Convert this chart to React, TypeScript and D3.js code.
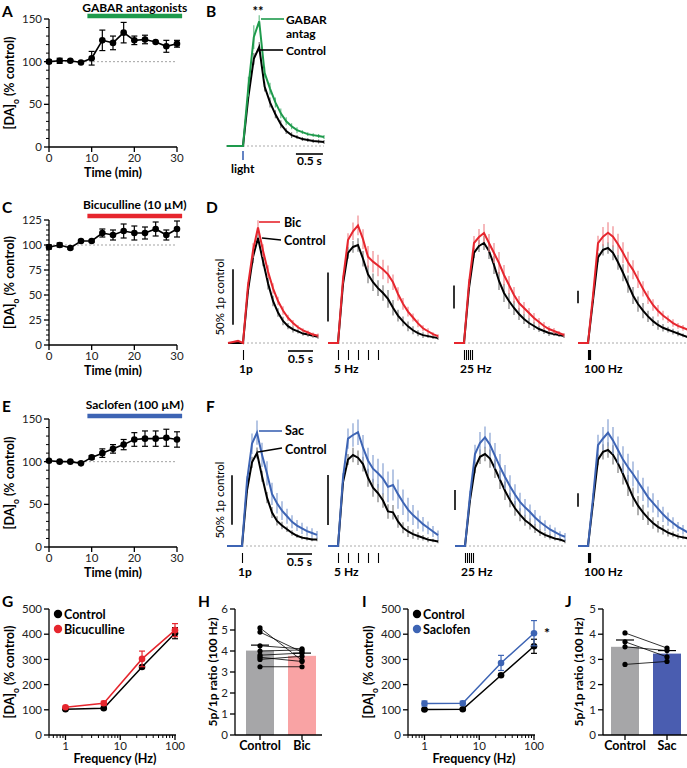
import React from "react";
import * as d3 from "d3";

const FONT = "Lato, 'Open Sans', 'DejaVu Sans', sans-serif";
const GREEN = "#1e9a4c";
const RED = "#e6262e";
const BLUE = "#3d64b4";
const RED_LIGHT = "#f08a8f";
const BLUE_LIGHT = "#86a1d2";
const GREEN_LIGHT = "#6cc08c";
const GRAY_ERR = "#7d7d7d";
const BAR_GRAY = "#a6a6a8";
const BAR_PINK = "#f9a3a4";
const BAR_BLUE = "#4a5db0";

// ---------- A, C, E : time courses ----------
const TIME_MIN = [0, 2.5, 5, 7.5, 10, 12.5, 15, 17.5, 20, 22.5, 25, 27.5, 30];
const TIME_TICKS = [0, 10, 20, 30];
const GABAR_MEAN = [100, 101, 101, 99, 104, 125, 122, 134, 125, 126, 123, 118, 121];
const GABAR_SEM = [2, 3, 1, 1, 8, 12, 8, 12, 5, 5, 1, 7, 4];
const BIC_TC_MEAN = [98, 100, 97, 104, 104, 112, 110, 114, 112, 112, 116, 110, 116];
const BIC_TC_SEM = [2, 2, 1, 1, 1, 4, 5, 7, 7, 6, 7, 5, 8];
const SAC_TC_MEAN = [101, 100, 100, 98, 105, 110, 115, 120, 126, 127, 127, 128, 126];
const SAC_TC_SEM = [1, 1, 1, 1, 2, 5, 5, 6, 8, 9, 9, 10, 9];
const A_YTICKS = [0, 50, 100, 150];
const C_YTICKS = [0, 25, 50, 75, 100, 125];
const E_YTICKS = [0, 50, 100, 150];

// ---------- B, D, F : voltammetry traces (% of control peak) ----------
const T_1P = [-0.3, -0.2, -0.1, 0, 0.1, 0.2, 0.3, 0.4, 0.5, 0.6, 0.7, 0.8, 0.9, 1.0, 1.1, 1.2, 1.3, 1.4, 1.5];
const T_TRAIN = [-0.2, -0.1, 0, 0.1, 0.2, 0.3, 0.4, 0.5, 0.6, 0.7, 0.8, 0.9, 1.0, 1.1, 1.2, 1.3, 1.4, 1.5, 1.6, 1.7, 1.8, 1.9, 2.0];

const B_CTRL = [0, 0, 0, 0, 50, 88, 100, 60, 44, 32, 22, 15, 11, 9, 7, 6, 5, 4.5, 4];
const B_GABAR = [0, 0, 0, 0, 60, 110, 126, 74, 58, 44, 33, 25, 20, 16, 14, 12, 11, 10, 9];
const B_CTRL_ERR = [0, 0, 0, 0, 4, 6, 5, 5, 5, 4, 4, 3, 3, 2, 2, 2, 2, 2, 2];
const B_GABAR_ERR = [0, 0, 0, 0, 10, 12, 6, 6, 6, 5, 5, 4, 3, 3, 2, 2, 2, 2, 2];

const STIM_LABELS = ["1p", "5 Hz", "25 Hz", "100 Hz"];
const STIM_TIMES = [
  [0],
  [0, 0.2, 0.4, 0.6, 0.8],
  [0, 0.04, 0.08, 0.12, 0.16],
  [0, 0.01, 0.02, 0.03, 0.04],
];

const D_CTRL = [
  [0, 0, 0, 0, 50, 82, 100, 78, 57, 40, 29, 21, 16, 13, 11, 9, 8, 7, 6],
  [0, 0, 0, 60, 92, 98, 100, 86, 70, 62, 56, 51, 45, 36, 28, 22, 17, 13, 10, 8, 7, 6, 5],
  [0, 0, 0, 55, 90, 97, 100, 92, 78, 62, 50, 42, 35, 29, 24, 20, 17, 14, 12, 10, 9, 8, 7],
  [0, 0, 0, 45, 90, 98, 100, 95, 85, 74, 62, 50, 41, 34, 28, 23, 19, 16, 14, 12, 10, 8, 6],
];
const D_BIC = [
  [0, 1, 2, 0, 55, 88, 110, 88, 68, 52, 40, 31, 24, 19, 15, 12, 10, 8, 7],
  [0, 0, 0, 65, 105, 114, 120, 106, 88, 83, 79, 75, 70, 62, 50, 40, 32, 26, 20, 15, 12, 9, 7],
  [0, 0, 0, 60, 100, 106, 110, 100, 90, 80, 68, 58, 48, 40, 35, 30, 25, 21, 17, 14, 12, 10, 8],
  [0, 0, 0, 50, 105, 112, 116, 112, 104, 95, 85, 77, 67, 57, 48, 40, 34, 29, 25, 21, 18, 16, 14],
];
const D_CTRL_ERR = [
  [0, 0, 0, 0, 3, 6, 5, 5, 6, 5, 4, 4, 3, 3, 2, 2, 2, 2, 2],
  [0, 0, 0, 3, 6, 6, 7, 8, 9, 9, 8, 8, 9, 8, 6, 5, 5, 4, 3, 3, 2, 2, 2],
  [0, 0, 0, 3, 5, 6, 7, 8, 9, 9, 9, 8, 7, 6, 5, 5, 4, 3, 3, 3, 2, 2, 2],
  [0, 0, 0, 3, 5, 6, 6, 8, 8, 9, 9, 9, 8, 8, 6, 5, 5, 4, 3, 3, 3, 2, 2],
];
const D_BIC_ERR = [
  [0, 0, 0, 0, 3, 7, 7, 6, 6, 5, 4, 4, 3, 3, 2, 2, 2, 2, 2],
  [0, 0, 0, 4, 7, 9, 10, 10, 11, 11, 11, 10, 9, 8, 7, 6, 5, 4, 4, 3, 3, 2, 2],
  [0, 0, 0, 4, 7, 8, 9, 9, 10, 11, 10, 9, 8, 7, 6, 5, 5, 4, 4, 3, 3, 2, 2],
  [0, 0, 0, 4, 8, 10, 11, 11, 11, 11, 11, 10, 9, 8, 7, 6, 6, 5, 4, 4, 3, 3, 2],
];
const D_BAR_PCT = [53, 50, 23, 13];

const F_CTRL = [
  [0, 0, 0, 0, 60, 90, 100, 75, 52, 36, 27, 22, 18, 14, 11, 9, 8, 7, 7],
  [0, 0, 0, 70, 95, 100, 97, 90, 75, 64, 58, 50, 38, 37, 27, 20, 16, 13, 11, 9, 7, 6, 5],
  [0, 0, 0, 50, 85, 97, 100, 95, 84, 72, 60, 50, 41, 34, 28, 24, 19, 15, 12, 10, 8, 7, 5],
  [0, 0, 0, 45, 90, 98, 100, 95, 86, 75, 63, 51, 42, 35, 29, 24, 20, 17, 14, 12, 10, 9, 8],
];
const F_SAC = [
  [0, 0, 0, 0, 70, 110, 122, 98, 78, 56, 46, 38, 32, 26, 22, 19, 16, 14, 12],
  [0, 0, 0, 75, 118, 122, 125, 108, 94, 85, 80, 74, 65, 67, 57, 48, 40, 34, 29, 24, 20, 16, 12],
  [0, 0, 0, 55, 100, 112, 118, 110, 98, 86, 75, 65, 56, 48, 42, 37, 31, 26, 22, 18, 15, 12, 10],
  [0, 0, 0, 50, 105, 112, 118, 110, 100, 90, 82, 75, 67, 59, 51, 45, 39, 33, 28, 24, 20, 17, 14],
];
const F_CTRL_ERR = [
  [0, 0, 0, 0, 3, 6, 6, 6, 6, 6, 5, 4, 3, 3, 2, 2, 2, 2, 2],
  [0, 0, 0, 3, 6, 8, 8, 8, 10, 10, 10, 8, 8, 8, 7, 6, 6, 5, 4, 3, 3, 2, 2],
  [0, 0, 0, 3, 6, 8, 8, 10, 10, 10, 10, 8, 8, 7, 6, 6, 5, 4, 3, 3, 2, 2, 2],
  [0, 0, 0, 3, 6, 8, 8, 10, 10, 11, 11, 10, 10, 8, 7, 6, 6, 5, 4, 3, 3, 2, 2],
];
const F_SAC_ERR = [
  [0, 0, 0, 0, 5, 11, 13, 13, 13, 12, 11, 10, 8, 7, 6, 6, 5, 5, 4],
  [0, 0, 0, 5, 11, 13, 14, 14, 14, 15, 16, 17, 17, 17, 16, 14, 13, 11, 10, 8, 7, 6, 5],
  [0, 0, 0, 5, 10, 12, 12, 13, 14, 14, 13, 12, 11, 10, 9, 8, 8, 7, 6, 5, 5, 4, 4],
  [0, 0, 0, 5, 11, 12, 14, 14, 14, 14, 14, 13, 12, 12, 11, 10, 9, 8, 7, 6, 5, 5, 4],
];
const F_BAR_PCT = [53, 55, 22, 14];

// ---------- G, I : frequency response ----------
const FREQ = [1, 5, 25, 100];
const FREQ_TICKS = [1, 10, 100];
const DA_TICKS = [0, 100, 200, 300, 400, 500];
const G_CTRL = [102, 106, 270, 404];
const G_CTRL_SEM = [3, 3, 5, 22];
const G_BIC = [110, 126, 302, 416];
const G_BIC_SEM = [4, 8, 31, 26];
const I_CTRL = [101, 102, 237, 352];
const I_CTRL_SEM = [3, 3, 4, 28];
const I_SAC = [125, 126, 286, 404];
const I_SAC_SEM = [10, 8, 30, 50];

// ---------- H, J : paired ratios ----------
const H_CATS = ["Control", "Bic"];
const H_MEAN = [4.02, 3.77];
const H_SEM = [0.26, 0.13];
const H_CTRL_VALS = [5.1, 4.9, 4.25, 4.0, 3.8, 3.7, 3.6, 3.25];
const H_BIC_VALS = [3.55, 3.95, 4.1, 4.05, 3.9, 3.5, 3.75, 3.25];
const H_TICKS = [0, 1, 2, 3, 4, 5, 6];
const J_CATS = ["Control", "Sac"];
const J_MEAN = [3.5, 3.23];
const J_SEM = [0.27, 0.12];
const J_CTRL_VALS = [4.05, 3.7, 3.5, 2.8];
const J_SAC_VALS = [3.45, 3.1, 3.35, 2.92];
const J_TICKS = [0, 1, 2, 3, 4, 5];

// ---------- helpers ----------
const TICK_FS = 11.5;
const TITLE_FS = 12.5;

function Letter({ x, y, t }: any) {
  return (
    <text x={x} y={y} fontSize={15.5} fontWeight={700}>
      {t}
    </text>
  );
}

function DALabel({ x, y }: any) {
  return (
    <text transform={`translate(${x},${y}) rotate(-90)`} textAnchor="middle" fontSize={TITLE_FS} fontWeight={700}>
      [DA]<tspan baselineShift="sub" fontSize={8.5}>o</tspan>
      <tspan> (% control)</tspan>
    </text>
  );
}

function YAxis({ scale, x, ticks, minor }: any) {
  const [r0, r1] = scale.range();
  return (
    <g>
      <line x1={x} x2={x} y1={r0} y2={r1} stroke="#000" strokeWidth={1.3} />
      {(minor || []).map((v: number) => (
        <line key={"m" + v} x1={x - 3} x2={x} y1={scale(v)} y2={scale(v)} stroke="#000" strokeWidth={1} />
      ))}
      {ticks.map((v: number) => (
        <g key={v}>
          <line x1={x - 5} x2={x} y1={scale(v)} y2={scale(v)} stroke="#000" strokeWidth={1.3} />
          <text x={x - 7} y={scale(v)} dy="0.36em" textAnchor="end" fontSize={TICK_FS} fill="#222">
            {v}
          </text>
        </g>
      ))}
    </g>
  );
}

function TimeCourse({ letter, yTop, yBottom, yMax, yTicks, minorStep, mean, sem, barColor, barLabel, barY, barLabelY }: any) {
  const x = d3.scaleLinear().domain([0, 30]).range([49, 177]);
  const y = d3.scaleLinear().domain([0, yMax]).range([yBottom, yTop]);
  const line = d3.line<number>().x((_, i) => x(TIME_MIN[i])).y((d) => y(d));
  const minor = d3.range(0, yMax + 0.01, minorStep).filter((v) => !yTicks.includes(v));
  return (
    <g>
      <Letter x={2} y={letter.y} t={letter.t} />
      <line x1={x(9.0)} x2={x(31.2)} y1={barY} y2={barY} stroke={barColor} strokeWidth={4.5} />
      <text x={(x(9) + x(31.2)) / 2} y={barLabelY} textAnchor="middle" fontSize={12} fontWeight={700}>
        {barLabel}
      </text>
      <line x1={x(0)} x2={x(30)} y1={y(100)} y2={y(100)} stroke="#999" strokeDasharray="2,2" strokeWidth={0.9} />
      <YAxis scale={y} x={49} ticks={yTicks} minor={minor} />
      <line x1={49} x2={177} y1={yBottom} y2={yBottom} stroke="#000" strokeWidth={1.3} />
      {TIME_TICKS.map((v) => (
        <g key={v}>
          <line x1={x(v)} x2={x(v)} y1={yBottom} y2={yBottom + 5} stroke="#000" strokeWidth={1.3} />
          <text x={x(v)} y={yBottom + 15} textAnchor="middle" fontSize={TICK_FS} fill="#222">
            {v}
          </text>
        </g>
      ))}
      <text x={113} y={yBottom + 30} textAnchor="middle" fontSize={TITLE_FS} fontWeight={700}>
        Time (min)
      </text>
      <DALabel x={14} y={(yTop + yBottom) / 2} />
      {mean.map((m: number, i: number) => (
        <g key={i}>
          <line x1={x(TIME_MIN[i])} x2={x(TIME_MIN[i])} y1={y(m - sem[i])} y2={y(m + sem[i])} stroke="#000" strokeWidth={1.2} />
          <line x1={x(TIME_MIN[i]) - 3} x2={x(TIME_MIN[i]) + 3} y1={y(m - sem[i])} y2={y(m - sem[i])} stroke="#000" strokeWidth={1.2} />
          <line x1={x(TIME_MIN[i]) - 3} x2={x(TIME_MIN[i]) + 3} y1={y(m + sem[i])} y2={y(m + sem[i])} stroke="#000" strokeWidth={1.2} />
        </g>
      ))}
      <path d={line(mean) || ""} fill="none" stroke="#000" strokeWidth={1.6} />
      {mean.map((m: number, i: number) => (
        <circle key={"p" + i} cx={x(TIME_MIN[i])} cy={y(m)} r={3.3} fill="#000" />
      ))}
    </g>
  );
}

function Traces({ x0, base, pxs, h, t, ctrl, drug, ctrlErr, drugErr, color, light }: any) {
  const x = d3.scaleLinear().domain([0, 1]).range([x0, x0 + pxs]);
  const y = d3.scaleLinear().domain([0, 100]).range([base, base - h]);
  const line = d3.line<number>().x((_, i) => x(t[i])).y((d) => y(d));
  return (
    <g>
      <line x1={x(0)} x2={x(t[t.length - 1])} y1={base} y2={base} stroke="#aaa" strokeDasharray="2,2" strokeWidth={1} />
      {ctrl.map((v: number, i: number) =>
        ctrlErr[i] > 0 ? (
          <line key={"ce" + i} x1={x(t[i])} x2={x(t[i])} y1={y(v - ctrlErr[i])} y2={y(v + ctrlErr[i])} stroke={GRAY_ERR} strokeWidth={1.2} />
        ) : null
      )}
      <path d={line(ctrl) || ""} fill="none" stroke="#000" strokeWidth={2} />
      {drug.map((v: number, i: number) =>
        drugErr[i] > 0 ? (
          <line key={"de" + i} x1={x(t[i])} x2={x(t[i])} y1={y(v - drugErr[i])} y2={y(v + drugErr[i])} stroke={light} strokeWidth={1.2} />
        ) : null
      )}
      <path d={line(drug) || ""} fill="none" stroke={color} strokeWidth={2} />
    </g>
  );
}

function TraceRow({ base, x0s, hs, ctrl, drug, ctrlErr, drugErr, barPct, color, light }: any) {
  return (
    <g>
      <text transform={`translate(224,${base - 46}) rotate(-90)`} textAnchor="middle" fontSize={11.5}>
        50% 1p control
      </text>
      {x0s.map((x0: number, k: number) => {
        const t = k === 0 ? T_1P : T_TRAIN;
        const xs = d3.scaleLinear().domain([0, 1]).range([x0, x0 + 50]);
        const ys = d3.scaleLinear().domain([0, 100]).range([0, hs[k]]);
        const half = ys(barPct[k]) / 2;
        return (
          <g key={k}>
            <line x1={x0 - 10} x2={x0 - 10} y1={base - 46 - half} y2={base - 46 + half} stroke="#000" strokeWidth={1.6} />
            <Traces x0={x0} base={base} pxs={50} h={hs[k]} t={t} ctrl={ctrl[k]} drug={drug[k]} ctrlErr={ctrlErr[k]} drugErr={drugErr[k]} color={color} light={light} />
            {STIM_TIMES[k].map((s, j) => {
              const px = Math.round(xs(s)) + 0.5;
              return <line key={j} x1={px} x2={px} y1={base + 7} y2={base + 17} stroke="#000" strokeWidth={1.1} />;
            })}
            <text x={x0 - 4} y={base + 30} fontSize={12} fontWeight={700}>
              {STIM_LABELS[k]}
            </text>
            {k === 0 ? (
              <g>
                <line x1={xs(0.9)} x2={xs(1.4)} y1={base + 8} y2={base + 8} stroke="#000" strokeWidth={1.6} />
                <text x={xs(1.15)} y={base + 20} textAnchor="middle" fontSize={12} fontWeight={700}>
                  0.5 s
                </text>
              </g>
            ) : null}
          </g>
        );
      })}
    </g>
  );
}

function FreqPanel({ x0, letter, letterX, ctrl, ctrlSem, drug, drugSem, color, drugName, star }: any) {
  const x = d3.scaleLog().domain([0.5, 100]).range([x0, x0 + 126]);
  const y = d3.scaleLinear().domain([0, 500]).range([735, 609]);
  const allTicks = x.ticks();
  const line = d3.line<number>().x((_, i) => x(FREQ[i])).y((d) => y(d));
  const series = [
    { v: ctrl, s: ctrlSem, c: "#000" },
    { v: drug, s: drugSem, c: color },
  ];
  return (
    <g>
      <Letter x={letterX} y={607} t={letter} />
      <YAxis scale={y} x={x0} ticks={DA_TICKS} minor={[]} />
      <line x1={x0} x2={x0 + 127} y1={735} y2={735} stroke="#000" strokeWidth={1.3} />
      {allTicks.map((v) => {
        const major = FREQ_TICKS.includes(v);
        return <line key={v} x1={x(v)} x2={x(v)} y1={735} y2={735 + (major ? 5 : 3)} stroke="#000" strokeWidth={major ? 1.3 : 1} />;
      })}
      {FREQ_TICKS.map((v) => (
        <text key={v} x={x(v)} y={750} textAnchor="middle" fontSize={TICK_FS} fill="#222">
          {v}
        </text>
      ))}
      <text x={x0 + 66} y={763} textAnchor="middle" fontSize={TITLE_FS} fontWeight={700}>
        Frequency (Hz)
      </text>
      <DALabel x={x0 - 35} y={672} />
      {series.map((sr, k) => (
        <g key={k}>
          {sr.v.map((m: number, i: number) => (
            <g key={i}>
              <line x1={x(FREQ[i])} x2={x(FREQ[i])} y1={y(m - sr.s[i])} y2={y(m + sr.s[i])} stroke={sr.c} strokeWidth={1.2} />
              <line x1={x(FREQ[i]) - 3} x2={x(FREQ[i]) + 3} y1={y(m + sr.s[i])} y2={y(m + sr.s[i])} stroke={sr.c} strokeWidth={1.2} />
              <line x1={x(FREQ[i]) - 3} x2={x(FREQ[i]) + 3} y1={y(m - sr.s[i])} y2={y(m - sr.s[i])} stroke={sr.c} strokeWidth={1.2} />
            </g>
          ))}
          <path d={line(sr.v) || ""} fill="none" stroke={sr.c} strokeWidth={1.5} />
          {sr.v.map((m: number, i: number) => (
            <circle key={"c" + i} cx={x(FREQ[i])} cy={y(m)} r={3.3} fill={sr.c} />
          ))}
        </g>
      ))}
      <circle cx={x0 + 9} cy={614} r={4.2} fill="#000" />
      <text x={x0 + 15} y={618.5} fontSize={12.5} fontWeight={700}>
        Control
      </text>
      <circle cx={x0 + 9} cy={629} r={4.2} fill={color} />
      <text x={x0 + 15} y={633.5} fontSize={12.5} fontWeight={700}>
        {drugName}
      </text>
      {star ? (
        <text x={x(100) + 10} y={638} fontSize={14} fontWeight={700}>
          *
        </text>
      ) : null}
    </g>
  );
}

function RatioPanel({ axisX, barsX, cats, mean, sem, ctrlVals, drugVals, yMax, ticks, color, letter, letterX, labelX }: any) {
  const y = d3.scaleLinear().domain([0, yMax]).range([735, 609]);
  const xb = d3.scaleBand<string>().domain(cats).range([barsX, barsX + 70]).paddingInner(1 / 3);
  const bw = xb.bandwidth();
  const cx = cats.map((c: string) => (xb(c) as number) + bw / 2);
  const colors = [BAR_GRAY, color];
  return (
    <g>
      <Letter x={letterX} y={607} t={letter} />
      {cats.map((c: string, i: number) => (
        <rect key={c} x={xb(c)} y={y(mean[i])} width={bw} height={735 - y(mean[i])} fill={colors[i]} />
      ))}
      {cats.map((c: string, i: number) => (
        <g key={"e" + c}>
          <line x1={cx[i]} x2={cx[i]} y1={y(mean[i])} y2={y(mean[i] + sem[i])} stroke="#000" strokeWidth={1.2} />
          <line x1={cx[i] - 9} x2={cx[i] + 9} y1={y(mean[i] + sem[i])} y2={y(mean[i] + sem[i])} stroke="#000" strokeWidth={1.2} />
        </g>
      ))}
      {ctrlVals.map((v: number, i: number) => (
        <g key={"p" + i}>
          <line x1={cx[0]} x2={cx[1]} y1={y(v)} y2={y(drugVals[i])} stroke="#000" strokeWidth={0.8} />
          <circle cx={cx[0]} cy={y(v)} r={2.6} fill="#000" />
          <circle cx={cx[1]} cy={y(drugVals[i])} r={2.6} fill="#000" />
        </g>
      ))}
      <YAxis scale={y} x={axisX} ticks={ticks} minor={[]} />
      <line x1={axisX} x2={barsX + 76} y1={735} y2={735} stroke="#000" strokeWidth={1.3} />
      {cats.map((c: string, i: number) => (
        <g key={"l" + c}>
          <line x1={cx[i]} x2={cx[i]} y1={735} y2={740} stroke="#000" strokeWidth={1.3} />
          <text x={cx[i]} y={750} textAnchor="middle" fontSize={12.5} fontWeight={700}>
            {c}
          </text>
        </g>
      ))}
      <text transform={`translate(${labelX},672) rotate(-90)`} textAnchor="middle" fontSize={12} fontWeight={700}>
        5p/1p ratio (100 Hz)
      </text>
    </g>
  );
}

export default function App() {
  const bx = d3.scaleLinear().domain([0, 1]).range([243, 297]);
  return (
    <svg width={687} height={768} style={{ position: "absolute", left: 0, top: 0, background: "#fff" }} fontFamily={FONT}>
      <rect width={687} height={768} fill="#fff" />
      {/* A */}
      <TimeCourse letter={{ t: "A", y: 17 }} yTop={19} yBottom={147} yMax={150} yTicks={A_YTICKS} minorStep={10}
        mean={GABAR_MEAN} sem={GABAR_SEM} barColor={GREEN} barLabel="GABAR antagonists" barY={16} barLabelY={12} />
      {/* C */}
      <TimeCourse letter={{ t: "C", y: 213 }} yTop={220} yBottom={345} yMax={125} yTicks={C_YTICKS} minorStep={5}
        mean={BIC_TC_MEAN} sem={BIC_TC_SEM} barColor={RED} barLabel="Bicuculline (10 µM)" barY={216} barLabelY={209} />
      {/* E */}
      <TimeCourse letter={{ t: "E", y: 412 }} yTop={419} yBottom={547} yMax={150} yTicks={E_YTICKS} minorStep={10}
        mean={SAC_TC_MEAN} sem={SAC_TC_SEM} barColor={BLUE} barLabel="Saclofen (100 µM)" barY={416} barLabelY={409} />

      {/* B */}
      <Letter x={206} y={17} t="B" />
      <Traces x0={243} base={146} pxs={54} h={99} t={T_1P} ctrl={B_CTRL} drug={B_GABAR} ctrlErr={B_CTRL_ERR} drugErr={B_GABAR_ERR} color={GREEN} light={GREEN_LIGHT} />
      <text x={258} y={16} textAnchor="middle" fontSize={13} fontWeight={700}>**</text>
      <line x1={261} x2={284} y1={19} y2={19} stroke={GREEN} strokeWidth={1.6} />
      <text x={286} y={24} fontSize={12} fontWeight={700}>GABAR</text>
      <text x={286} y={37.5} fontSize={12} fontWeight={700}>antag</text>
      <line x1={260} x2={283} y1={50} y2={50} stroke="#000" strokeWidth={1.6} />
      <text x={286} y={55} fontSize={12} fontWeight={700}>Control</text>
      <line x1={bx(0)} x2={bx(0)} y1={151} y2={160} stroke={BLUE} strokeWidth={1.6} />
      <text x={231} y={173} fontSize={12} fontWeight={700}>light</text>
      <line x1={bx(0.98)} x2={bx(1.48)} y1={154} y2={154} stroke="#000" strokeWidth={1.6} />
      <text x={bx(1.23)} y={165} textAnchor="middle" fontSize={12} fontWeight={700}>0.5 s</text>

      {/* D */}
      <Letter x={206} y={213} t="D" />
      <TraceRow base={343} x0s={[243, 338, 464, 588]} hs={[105, 98, 100, 95]} ctrl={D_CTRL} drug={D_BIC}
        ctrlErr={D_CTRL_ERR} drugErr={D_BIC_ERR} barPct={D_BAR_PCT} color={RED} light={RED_LIGHT} />
      <line x1={259} x2={280} y1={222} y2={222} stroke={RED} strokeWidth={1.6} />
      <text x={284} y={227} fontSize={12.5} fontWeight={700}>Bic</text>
      <line x1={262} x2={281} y1={238} y2={240} stroke="#000" strokeWidth={1.6} />
      <text x={284} y={245} fontSize={12.5} fontWeight={700}>Control</text>

      {/* F */}
      <Letter x={206} y={412} t="F" />
      <TraceRow base={546} x0s={[242, 338, 465, 588]} hs={[93, 91, 92, 96]} ctrl={F_CTRL} drug={F_SAC}
        ctrlErr={F_CTRL_ERR} drugErr={F_SAC_ERR} barPct={F_BAR_PCT} color={BLUE} light={BLUE_LIGHT} />
      <line x1={259} x2={282} y1={431} y2={431} stroke={BLUE} strokeWidth={1.6} />
      <text x={285} y={435} fontSize={12.5} fontWeight={700}>Sac</text>
      <line x1={258} x2={282} y1={452} y2={448} stroke="#000" strokeWidth={1.6} />
      <text x={285} y={454} fontSize={12.5} fontWeight={700}>Control</text>

      {/* G */}
      <FreqPanel x0={49} letter="G" letterX={2} ctrl={G_CTRL} ctrlSem={G_CTRL_SEM} drug={G_BIC} drugSem={G_BIC_SEM}
        color={RED} drugName="Bicuculline" star={false} />
      {/* H */}
      <RatioPanel axisX={235} barsX={246} cats={H_CATS} mean={H_MEAN} sem={H_SEM} ctrlVals={H_CTRL_VALS} drugVals={H_BIC_VALS}
        yMax={6} ticks={H_TICKS} color={BAR_PINK} letter="H" letterX={198} labelX={217} />
      {/* I */}
      <FreqPanel x0={408} letter="I" letterX={362} ctrl={I_CTRL} ctrlSem={I_CTRL_SEM} drug={I_SAC} drugSem={I_SAC_SEM}
        color={BLUE} drugName="Saclofen" star={true} />
      {/* J */}
      <RatioPanel axisX={603} barsX={611} cats={J_CATS} mean={J_MEAN} sem={J_SEM} ctrlVals={J_CTRL_VALS} drugVals={J_SAC_VALS}
        yMax={5} ticks={J_TICKS} color={BAR_BLUE} letter="J" letterX={565} labelX={583} />
    </svg>
  );
}
